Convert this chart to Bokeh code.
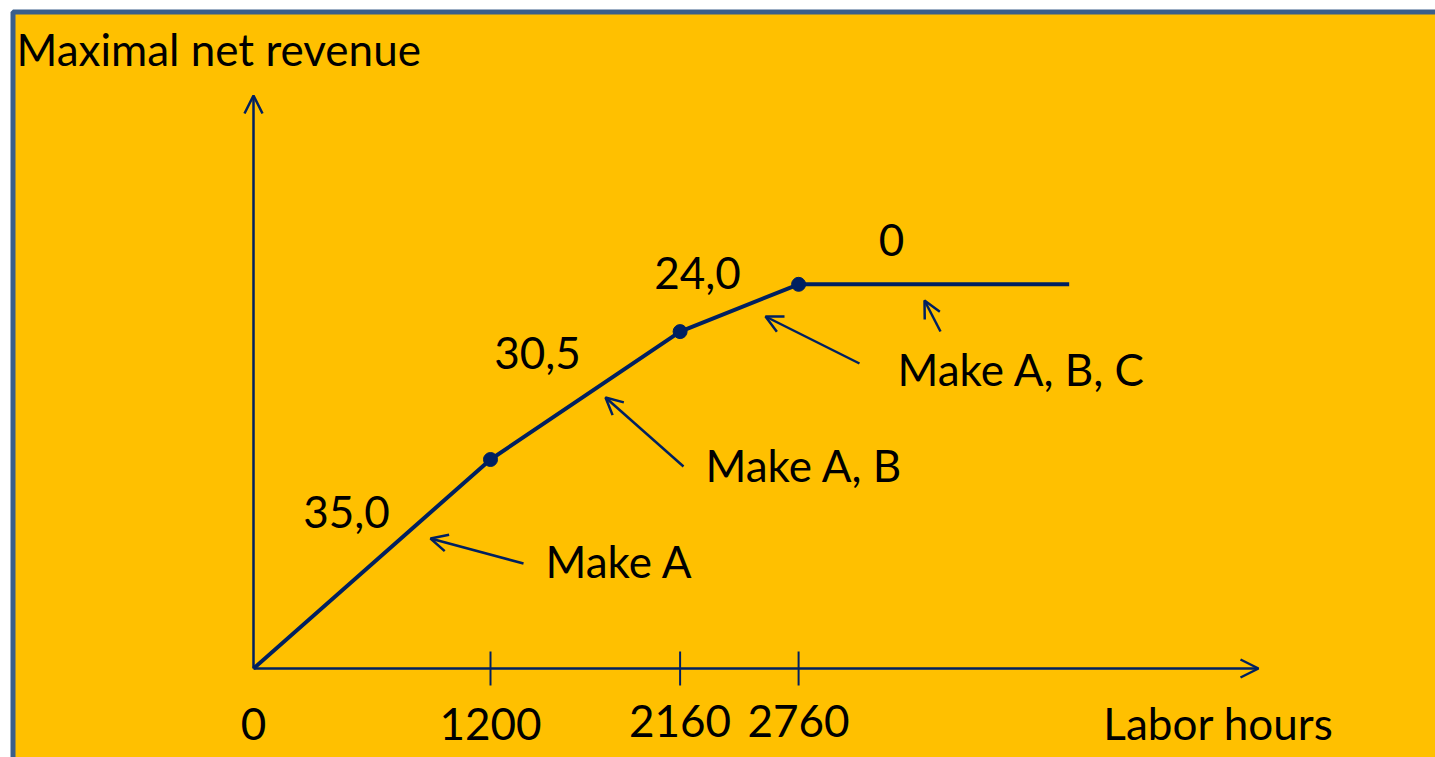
from bokeh.plotting import figure
from bokeh.models import Range1d, BoxAnnotation, Arrow, OpenHead
from bokeh.core.properties import value
from bokeh.embed import file_html
from bokeh.resources import INLINE

# ---------------- data ----------------
labor_hours = [0, 1200, 2160, 2760, 4130]
net_revenue = [0, 42000, 67700, 77200, 77200]
break_x = [1200, 2160, 2760]
break_y = [42000, 67700, 77200]
tick_values = [0, 1200, 2160, 2760]
tick_labels = ["0", "1200", "2160", "2760"]
slope_labels = ["35,0", "30,5", "24,0", "0"]
regime_labels = ["Make A", "Make A, B", "Make A, B, C"]
x_title = "Labor hours"
y_title = "Maximal net revenue"

# ---------------- layout (screen pixels) ----------------
W, H = 1435, 757
OX, OY = 253, 668            # origin in screen px
SX = 0.1975                  # px per labor hour
SY = 209 / 42000             # px per revenue unit
TXT_SHIFT = 18               # baseline correction for the text renderer

def dx(px):
    return (px - OX) / SX

def dy(py):
    return (OY - py) / SY

def ty(py):
    return dy(py - TXT_SHIFT)

NAVY = "#002060"
ORANGE = "#FFC000"
FRAME = "#3A5F8B"
FONT = value("Lato")
FS = "44px"

p = figure(width=W, height=H, output_backend="svg", toolbar_location=None,
           x_axis_type=None, y_axis_type=None, min_border=0,
           x_range=Range1d(dx(0), dx(W)), y_range=Range1d(dy(H), dy(0)))
p.outline_line_color = None
p.grid.visible = False
p.background_fill_color = "white"
p.border_fill_color = "white"

# orange slide panel with blue frame
p.add_layout(BoxAnnotation(left=dx(12.5), top=dy(11.5), right=dx(W + 50), bottom=dy(H + 50),
                           fill_color=ORANGE, fill_alpha=1.0, line_color=FRAME,
                           line_alpha=1.0, line_width=5, level="underlay"))

# axes with arrows
p.add_layout(Arrow(x_start=0, y_start=0, x_end=dx(1258), y_end=0,
                   line_color=NAVY, line_width=2.5,
                   end=OpenHead(size=18, line_color=NAVY, line_width=2.5)))
p.add_layout(Arrow(x_start=0, y_start=0, x_end=0, y_end=dy(95),
                   line_color=NAVY, line_width=2.5,
                   end=OpenHead(size=18, line_color=NAVY, line_width=2.5)))

# tick marks at breakpoints
TICK = 17
p.segment(x0=break_x, x1=break_x, y0=[-TICK / SY] * len(break_x), y1=[TICK / SY] * len(break_x),
          line_color=NAVY, line_width=2)

# the revenue curve and breakpoints
p.line(labor_hours, net_revenue, line_color=NAVY, line_width=4)
p.scatter(break_x, break_y, size=14, color=NAVY)

# tick labels
tick_base = [741, 741, 738, 738]
p.text(x=tick_values, y=[ty(b) for b in tick_base], text=tick_labels,
       text_font=FONT, text_font_size=FS, text_align="center",
       text_baseline="alphabetic", text_color="black")

# axis titles
p.text(x=[dx(1218)], y=[ty(740)], text=[x_title], text_font=FONT, text_font_size=FS,
       text_align="center", text_baseline="alphabetic", text_color="black")
p.text(x=[dx(16)], y=[ty(66)], text=[y_title], text_font=FONT, text_font_size=FS,
       text_align="left", text_baseline="alphabetic", text_color="black")

# slope labels
slope_pos = [(346, 529), (537, 370), (697, 290), (891, 257)]
p.text(x=[dx(a) for a, b in slope_pos], y=[ty(b) for a, b in slope_pos], text=slope_labels,
       text_font=FONT, text_font_size=FS, text_align="center",
       text_baseline="alphabetic", text_color="black")

# regime labels
regime_pos = [(545, 578), (705, 482), (897, 386)]
p.text(x=[dx(a) for a, b in regime_pos], y=[ty(b) for a, b in regime_pos], text=regime_labels,
       text_font=FONT, text_font_size=FS, text_align="left",
       text_baseline="alphabetic", text_color="black")

# pointer arrows (tail -> head)
pointers = [((523, 563), (430, 538)),
            ((683, 466), (605, 397)),
            ((859, 363), (765, 316)),
            ((940, 331), (924, 300))]
for (tx, tyy), (hx, hy) in pointers:
    p.add_layout(Arrow(x_start=dx(tx), y_start=dy(tyy), x_end=dx(hx), y_end=dy(hy),
                       line_color=NAVY, line_width=2.5,
                       end=OpenHead(size=17, line_color=NAVY, line_width=2.5)))

open("out.html", "w").write(file_html(p, INLINE))
